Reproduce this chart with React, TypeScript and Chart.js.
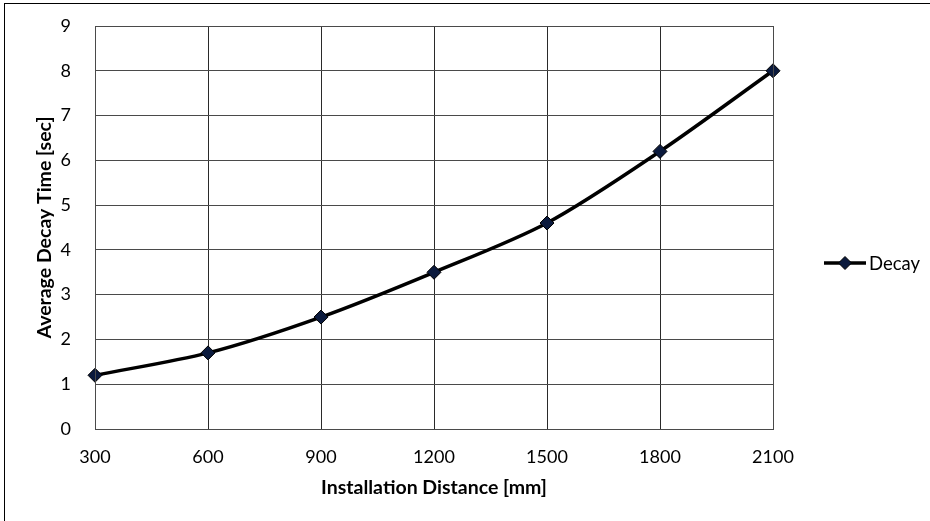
import React, { useEffect, useRef } from "react";
import { Chart, registerables } from "chart.js";

Chart.register(...registerables);

const categories = ["300", "600", "900", "1200", "1500", "1800", "2100"];
const decayValues = [1.2, 1.7, 2.5, 3.5, 4.6, 6.2, 8.0];
const seriesName = "Decay";
const xTitle = "Installation Distance [mm]";
const yTitle = "Average Decay Time [sec]";
const yMin = 0;
const yMax = 9;

const FONT = "Lato";
const MARKER_FILL = "#0b1a3d";
const GRID = "#4a4a4a";

const decorPlugin = {
  id: "decor",
  afterDraw(chart: any) {
    const { ctx, chartArea } = chart;
    ctx.save();
    ctx.strokeStyle = "#000";
    ctx.lineWidth = 1;
    ctx.strokeRect(4.5, 3.5, 1000, 1000);

    ctx.strokeStyle = GRID;
    ctx.strokeRect(
      Math.round(chartArea.left) + 0.5,
      Math.round(chartArea.top) + 0.5,
      Math.round(chartArea.right - chartArea.left),
      Math.round(chartArea.bottom - chartArea.top)
    );

    ctx.fillStyle = "#000";
    ctx.font = `bold 19.5px ${FONT}`;
    ctx.textAlign = "center";
    ctx.textBaseline = "middle";
    ctx.fillText(xTitle, (chartArea.left + chartArea.right) / 2, 488);
    ctx.save();
    ctx.translate(45, (chartArea.top + chartArea.bottom) / 2);
    ctx.rotate(-Math.PI / 2);
    ctx.fillText(yTitle, 0, 0);
    ctx.restore();

    const ly = 263;
    ctx.strokeStyle = "#000";
    ctx.lineWidth = 3.5;
    ctx.beginPath();
    ctx.moveTo(824, ly);
    ctx.lineTo(866, ly);
    ctx.stroke();
    ctx.fillStyle = MARKER_FILL;
    ctx.lineWidth = 1;
    ctx.beginPath();
    const r = 6.5;
    ctx.moveTo(845 - r, ly);
    ctx.lineTo(845, ly - r);
    ctx.lineTo(845 + r, ly);
    ctx.lineTo(845, ly + r);
    ctx.closePath();
    ctx.fill();
    ctx.stroke();
    ctx.fillStyle = "#000";
    ctx.font = `18.5px ${FONT}`;
    ctx.textAlign = "left";
    ctx.fillText(seriesName, 869, ly + 1);
    ctx.restore();
  },
};

export default function App() {
  const canvasRef = useRef<HTMLCanvasElement | null>(null);

  useEffect(() => {
    document.body.style.margin = "0";
    const canvas = canvasRef.current;
    if (!canvas) return;
    const chart = new Chart(canvas, {
      type: "line",
      data: {
        labels: categories,
        datasets: [
          {
            label: seriesName,
            data: decayValues,
            borderColor: "#000",
            borderWidth: 3.5,
            tension: 0.3,
            pointStyle: "rectRot",
            pointRadius: 7,
            pointBackgroundColor: MARKER_FILL,
            pointBorderColor: "#000",
            pointBorderWidth: 1,
          },
        ],
      },
      options: {
        responsive: false,
        animation: false,
        devicePixelRatio: 1,
        layout: { padding: { left: 0, top: 26, right: 157, bottom: 0 } },
        plugins: {
          legend: { display: false },
          tooltip: { enabled: false },
        },
        scales: {
          x: {
            offset: false,
            grid: { color: "#2a2a2a", lineWidth: 1, drawTicks: false },
            border: { display: false },
            ticks: {
              color: "#000",
              font: { family: FONT, size: 18 },
              padding: 17,
              maxRotation: 0,
            },
            afterFit(scale: any) {
              scale.height = 92;
              scale.paddingLeft = 0;
              scale.paddingRight = 0;
            },
          },
          y: {
            min: yMin,
            max: yMax,
            grid: { color: GRID, lineWidth: 1, drawTicks: false },
            border: { display: false },
            ticks: {
              stepSize: 1,
              color: "#000",
              font: { family: FONT, size: 18 },
              padding: 24,
            },
            afterFit(scale: any) {
              scale.width = 95;
              scale.paddingTop = 0;
              scale.paddingBottom = 0;
            },
          },
        },
      },
      plugins: [decorPlugin],
    });
    return () => chart.destroy();
  }, []);

  return (
    <div style={{ position: "absolute", left: 0, top: 0, width: 930, height: 521, background: "#fff" }}>
      <canvas ref={canvasRef} width={930} height={521} />
    </div>
  );
}
